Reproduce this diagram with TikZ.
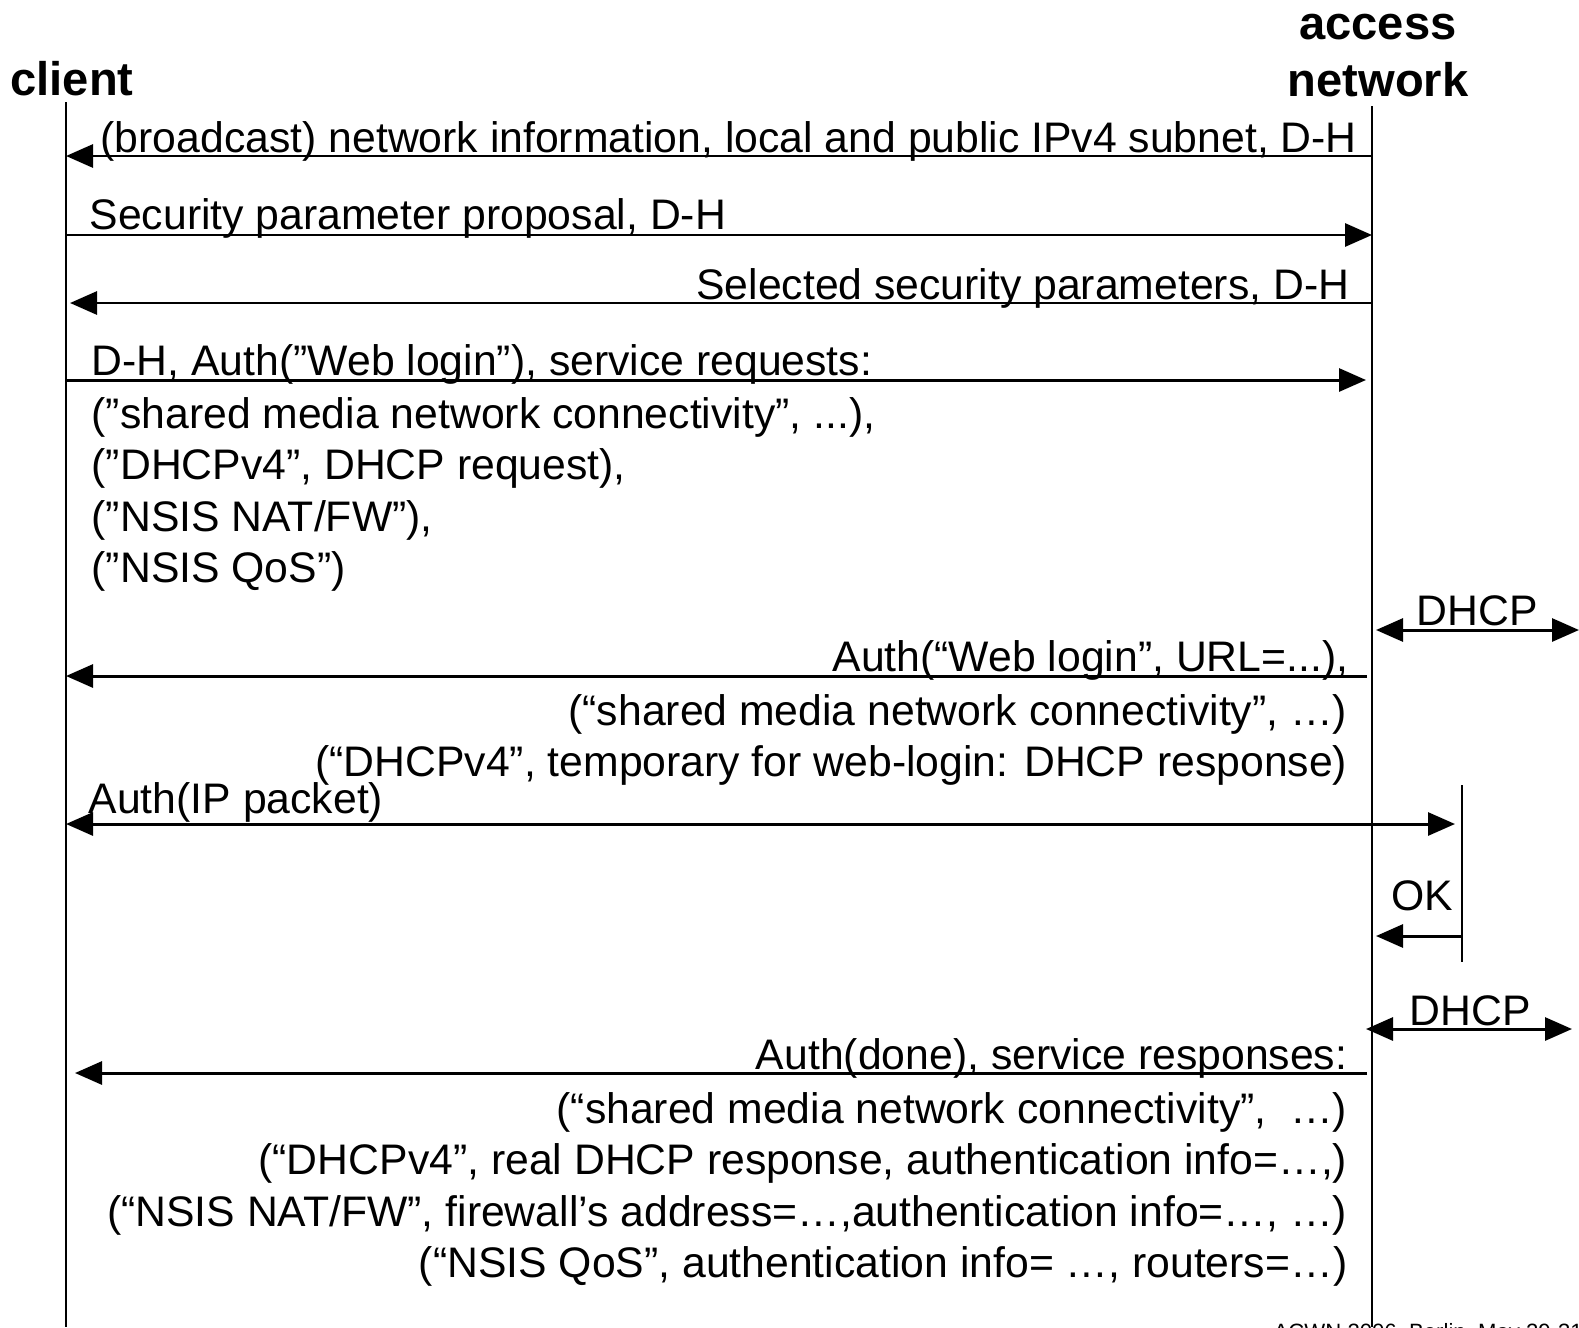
\documentclass[tikz,border=0pt]{standalone}
\usepackage{fontspec}
\setmainfont{Liberation Sans}
\usetikzlibrary{arrows.meta}

\begin{document}
\begin{tikzpicture}[x=0.01cm, y=-0.01cm,
    >={Triangle[length=0.27cm, width=0.23cm]},
    every node/.style = {inner sep=0pt},
    lifeline/.style = {line width=0.6pt},
    msg/.style = {line width=0.85pt},
    title/.style = {font=\fontsize{13.4}{16}\selectfont\bfseries},
    txt/.style = {font=\fontsize{12.15}{14.5}\selectfont},
    small/.style = {font=\fontsize{6.3}{7.5}\selectfont}]
  \useasboundingbox (0,0) rectangle (1579,1327);

  \node[title, anchor=base] (client) at (72,95) {client};
  \node[title, anchor=base] (access) at (1378,39) {access};
  \node[title, anchor=base] (network) at (1378,97) {network};

  \coordinate (cl-top) at (66,102);
  \coordinate (cl-bot) at (66,1327);
  \coordinate (an-top) at (1372,106);
  \coordinate (an-bot) at (1372,1327);
  \coordinate (gw-top) at (1462,785);
  \coordinate (gw-bot) at (1462,962);
  \draw[lifeline] (cl-top) -- (cl-bot);
  \draw[lifeline] (an-top) -- (an-bot);
  \draw[lifeline, line width=0.45pt] (gw-top) -- (gw-bot);

  \foreach \n/\y in {bcast/156, prop/235, sel/303, req/380, web/676, ip/824, done/1073}{
    \coordinate (\n-cl) at (66,\y);
    \coordinate (\n-an) at (1372,\y);
  }
  \coordinate (ip-gw) at (1462,824);
  \coordinate (ok-gw) at (1462,936);
  \coordinate (ok-an) at (1372,936);
  \coordinate (dhcp1-an) at (1372,630);
  \coordinate (dhcp1-out) at (1579,630);
  \coordinate (dhcp2-an) at (1366,1029);
  \coordinate (dhcp2-out) at (1572,1029);

  \draw[msg, ->] (bcast-an) -- (bcast-cl);
  \draw[msg, ->] (prop-cl) -- (prop-an);
  \draw[msg, ->, shorten >=0.04cm] (sel-an) -- (sel-cl);
  \draw[msg, ->, shorten >=0.06cm] (req-cl) -- (req-an);
  \draw[msg, <->, shorten <=0.04cm] (dhcp1-an) -- (dhcp1-out);
  \draw[msg, ->, shorten <=0.05cm] (web-an) -- (web-cl);
  \draw[msg, <->, shorten >=0.07cm] (ip-cl) -- (ip-gw);
  \draw[msg, ->, shorten >=0.04cm] (ok-gw) -- (ok-an);
  \draw[msg, <->] (dhcp2-an) -- (dhcp2-out);
  \draw[msg, ->, shorten <=0.05cm, shorten >=0.09cm] (done-an) -- (done-cl);

  \node[txt, anchor=base west] (bcast-lbl) at (100,152) {(broadcast) network information, local and public IPv4 subnet, D-H};
  \node[txt, anchor=base west] (prop-lbl) at (89,229) {Security parameter proposal, D-H};
  \node[txt, anchor=base east] (sel-lbl) at (1350,299) {Selected security parameters, D-H};
  \node[txt, anchor=base west] (req-lbl) at (91,375) {D-H, Auth(”Web login”), service requests:};
  \foreach \y/\t [count=\i] in {428/{(”shared media network connectivity”, ...),},
      479/{(”DHCPv4”, DHCP request),}, 531/{(”NSIS NAT/FW”),}, 582/{(”NSIS QoS”)}}
    \node[txt, anchor=base west] (req-\i) at (91,\y) {\t};

  \node[txt, anchor=base] (dhcp1-lbl) at (1477,625) {DHCP};
  \node[txt, anchor=base east] (web-lbl) at (1349,671) {Auth(“Web login”, URL=...),};
  \foreach \y/\t [count=\i] in {725/{(“shared media network connectivity”, …)},
      776/{(“DHCPv4”, temporary for web-login: DHCP response)}}
    \node[txt, anchor=base east] (web-\i) at (1348,\y) {\t};

  \node[txt, anchor=base west] (ip-lbl) at (88,813) {Auth(IP packet)};
  \node[txt, anchor=base] (ok-lbl) at (1422,910) {OK};
  \node[txt, anchor=base] (dhcp2-lbl) at (1470,1025) {DHCP};

  \node[txt, anchor=base east] (done-lbl) at (1348,1069) {Auth(done), service responses:};
  \foreach \y/\t [count=\i] in {1123/{(“shared media network connectivity”,~ …)},
      1174/{(“DHCPv4”, real DHCP response, authentication info=…,)},
      1226/{(“NSIS NAT/FW”, firewall’s address=…,authentication info=…, …)},
      1277/{(“NSIS QoS”, authentication info= …, routers=…)}}
    \node[txt, anchor=base east] (done-\i) at (1348,\y) {\t};

  \node[small, anchor=base west] (footer) at (1273,1339) {ACWN 2006, Berlin, May 29-31, 2006};
\end{tikzpicture}
\end{document}
